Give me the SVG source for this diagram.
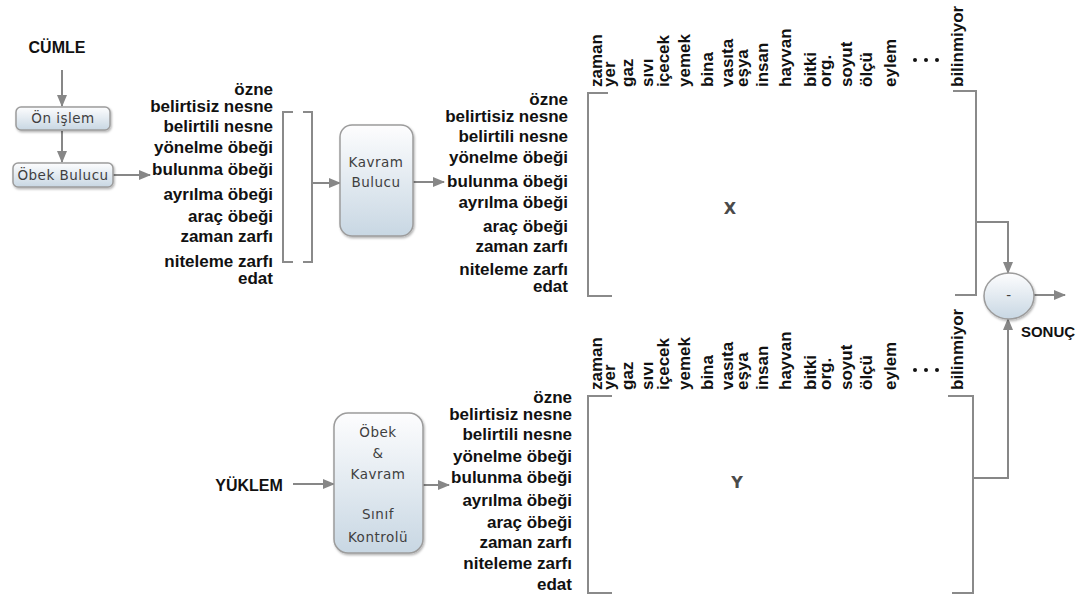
<svg xmlns="http://www.w3.org/2000/svg" width="1090" height="598" viewBox="0 0 1090 598">
<style>
.lbl{font-family:"Liberation Sans",Arial,sans-serif;font-weight:bold;font-size:17px;fill:#111}
.lst{text-anchor:end}
.col{text-anchor:start}
.big{font-family:"Liberation Sans",Arial,sans-serif;font-weight:bold;font-size:16px;fill:#111;text-anchor:middle}
.box{fill:url(#g);stroke:#9c9c9c;stroke-width:1.5;filter:url(#sh)}
.bt{font-family:"DejaVu Sans",Verdana,sans-serif;font-size:13.5px;fill:#3f3f3f;text-anchor:middle;letter-spacing:0.5px}
.con{fill:none;stroke:#878787;stroke-width:2}
.arr{marker-end:url(#ah)}
.brk{fill:none;stroke:#8a8a8a;stroke-width:2}
.mx{font-family:"DejaVu Sans",Verdana,sans-serif;font-weight:bold;font-size:16px;fill:#4a4a4a;text-anchor:middle}
</style>
<defs>
<linearGradient id="g" x1="0" y1="0" x2="0" y2="1">
<stop offset="0" stop-color="#fdfdfe"/>
<stop offset="1" stop-color="#c8d7e3"/>
</linearGradient>
<filter id="sh" x="-20%" y="-20%" width="140%" height="140%">
<feDropShadow dx="1" dy="1.5" stdDeviation="1.2" flood-color="#000" flood-opacity="0.3"/>
</filter>
<marker id="ah" markerUnits="userSpaceOnUse" markerWidth="12" markerHeight="10" refX="11" refY="5" orient="auto">
<path d="M0,0 L12,5 L0,10 Z" fill="#878787"/>
</marker>
</defs>

<g id="connectors">
<line class="con arr" x1="62" y1="70" x2="62" y2="106"/>
<line class="con arr" x1="62" y1="131" x2="62" y2="162"/>
<line class="con arr" x1="113" y1="175" x2="150" y2="175"/>
<line class="con arr" x1="312" y1="183" x2="340" y2="183"/>
<line class="con arr" x1="413" y1="182" x2="444" y2="182"/>
<path class="con arr" d="M976,222 H1008 V273"/>
<path class="con arr" d="M973,478 H1008 V319"/>
<line class="con arr" x1="1034" y1="295" x2="1065" y2="295"/>
<line class="con arr" x1="293" y1="484" x2="334" y2="484"/>
<line class="con arr" x1="423" y1="485" x2="449" y2="485"/>
</g>

<g id="cumle"><text class="big" x="57" y="53">CÜMLE</text></g>
<g id="on-islem">
<rect class="box" x="16" y="107" width="94" height="23" rx="5"/>
<text class="bt" x="63" y="123">Ön işlem</text>
</g>
<g id="obek-bulucu">
<rect class="box" x="13" y="163" width="100" height="24" rx="5"/>
<text class="bt" x="63" y="180">Öbek Bulucu</text>
</g>

<g id="list1" class="lbl lst">
<text x="273" y="95">özne</text>
<text x="273" y="112">belirtisiz nesne</text>
<text x="273" y="132">belirtili nesne</text>
<text x="273" y="153">yönelme öbeği</text>
<text x="273" y="175">bulunma öbeği</text>
<text x="273" y="200">ayrılma öbeği</text>
<text x="273" y="222">araç öbeği</text>
<text x="273" y="242">zaman zarfı</text>
<text x="273" y="267">niteleme zarfı</text>
<text x="273" y="284">edat</text>
</g>
<g id="bracket1">
<path class="brk" d="M293,112 H283 V262 H293"/>
<path class="brk" d="M303,112 H312 V262 H303"/>
</g>

<g id="kavram-bulucu">
<rect class="box" x="340" y="125" width="73" height="111" rx="12"/>
<text class="bt" x="376" y="167">Kavram</text>
<text class="bt" x="376" y="187">Bulucu</text>
</g>

<g id="list2" class="lbl lst">
<text x="568" y="105">özne</text>
<text x="568" y="122">belirtisiz nesne</text>
<text x="568" y="142">belirtili nesne</text>
<text x="568" y="163">yönelme öbeği</text>
<text x="568" y="187">bulunma öbeği</text>
<text x="568" y="208">ayrılma öbeği</text>
<text x="568" y="232">araç öbeği</text>
<text x="568" y="252">zaman zarfı</text>
<text x="568" y="275">niteleme zarfı</text>
<text x="568" y="292">edat</text>
</g>

<g id="matrix-x">
<path class="brk" d="M608,93 H588 V296 H612"/>
<path class="brk" d="M953,91 H976 V295 H955"/>
<text class="mx" x="730" y="214">X</text>
<g class="lbl col">
<text transform="translate(602,87) rotate(-90)">zaman</text>
<text transform="translate(615,87) rotate(-90)">yer</text>
<text transform="translate(633,87) rotate(-90)">gaz</text>
<text transform="translate(653,87) rotate(-90)">sıvı</text>
<text transform="translate(669,87) rotate(-90)">içecek</text>
<text transform="translate(690,87) rotate(-90)">yemek</text>
<text transform="translate(713,87) rotate(-90)">bina</text>
<text transform="translate(733,87) rotate(-90)">vasıta</text>
<text transform="translate(748,87) rotate(-90)">eşya</text>
<text transform="translate(768,87) rotate(-90)">insan</text>
<text transform="translate(791,87) rotate(-90)">hayvan</text>
<text transform="translate(816,87) rotate(-90)">bitki</text>
<text transform="translate(831,87) rotate(-90)">org.</text>
<text transform="translate(852,87) rotate(-90)">soyut</text>
<text transform="translate(872,87) rotate(-90)">ölçü</text>
<text transform="translate(896,87) rotate(-90)">eylem</text>
<text transform="translate(963,87) rotate(-90)">bilinmiyor</text>
</g>
<g fill="#111"><circle cx="915" cy="60" r="2"/><circle cx="926" cy="60" r="2"/><circle cx="937" cy="60" r="2"/></g>
</g>

<g id="minus">
<ellipse cx="1009" cy="296" rx="25" ry="23" fill="url(#g)" stroke="#9c9c9c" stroke-width="1.5" filter="url(#sh)"/>
<text class="bt" x="1009" y="300">-</text>
</g>
<g id="sonuc"><text class="big" x="1048" y="337" style="font-size:15px">SONUÇ</text></g>

<g id="yuklem"><text class="big" x="249" y="491">YÜKLEM</text></g>
<g id="obek-kavram">
<rect class="box" x="334" y="413" width="89" height="140" rx="14"/>
<text class="bt" x="378" y="437">Öbek</text>
<text class="bt" x="378" y="458">&amp;</text>
<text class="bt" x="378" y="479">Kavram</text>
<text class="bt" x="378" y="519">Sınıf</text>
<text class="bt" x="378" y="542">Kontrolü</text>
</g>

<g id="list3" class="lbl lst">
<text x="572" y="403">özne</text>
<text x="572" y="420">belirtisiz nesne</text>
<text x="572" y="440">belirtili nesne</text>
<text x="572" y="462">yönelme öbeği</text>
<text x="572" y="483">bulunma öbeği</text>
<text x="572" y="506">ayrılma öbeği</text>
<text x="572" y="528">araç öbeği</text>
<text x="572" y="548">zaman zarfı</text>
<text x="572" y="569">niteleme zarfı</text>
<text x="572" y="590">edat</text>
</g>

<g id="matrix-y">
<path class="brk" d="M612,396 H588 V593 H612"/>
<path class="brk" d="M948,396 H973 V593 H952"/>
<text class="mx" x="737" y="488">Y</text>
<g class="lbl col">
<text transform="translate(602,390) rotate(-90)">zaman</text>
<text transform="translate(615,390) rotate(-90)">yer</text>
<text transform="translate(633,390) rotate(-90)">gaz</text>
<text transform="translate(653,390) rotate(-90)">sıvı</text>
<text transform="translate(669,390) rotate(-90)">içecek</text>
<text transform="translate(690,390) rotate(-90)">yemek</text>
<text transform="translate(713,390) rotate(-90)">bina</text>
<text transform="translate(733,390) rotate(-90)">vasıta</text>
<text transform="translate(748,390) rotate(-90)">eşya</text>
<text transform="translate(768,390) rotate(-90)">insan</text>
<text transform="translate(791,390) rotate(-90)">hayvan</text>
<text transform="translate(816,390) rotate(-90)">bitki</text>
<text transform="translate(831,390) rotate(-90)">org.</text>
<text transform="translate(852,390) rotate(-90)">soyut</text>
<text transform="translate(872,390) rotate(-90)">ölçü</text>
<text transform="translate(896,390) rotate(-90)">eylem</text>
<text transform="translate(963,390) rotate(-90)">bilinmiyor</text>
</g>
<g fill="#111"><circle cx="915" cy="370" r="2"/><circle cx="926" cy="370" r="2"/><circle cx="937" cy="370" r="2"/></g>
</g>
</svg>
